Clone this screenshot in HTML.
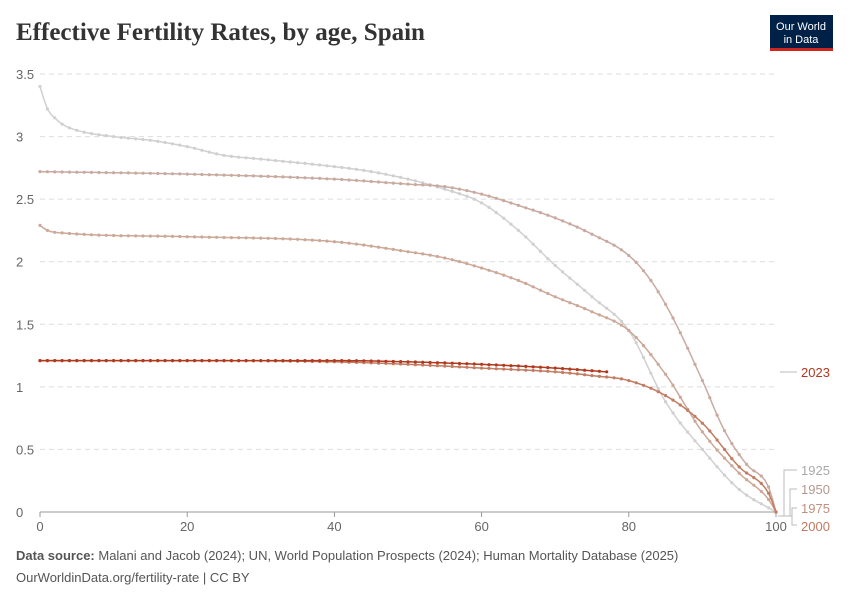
<!DOCTYPE html>
<html><head><meta charset="utf-8"><style>
body{margin:0;background:#fff;font-family:"Liberation Sans",sans-serif}
svg text{font-family:"Liberation Sans",sans-serif}
</style></head><body>
<svg id="s" width="850" height="600" xmlns="http://www.w3.org/2000/svg">
<text x="16" y="40" font-size="25" fill="#333" font-weight="bold" style="font-family:'Liberation Serif',serif">Effective Fertility Rates, by age, Spain</text>
<rect x="770" y="15" width="63" height="35" fill="#002147"/>
<rect x="770" y="48" width="63" height="3" fill="#ce261e"/>
<text x="801" y="30" font-size="11" fill="#fff" text-anchor="middle">Our World</text>
<text x="801" y="43" font-size="11" fill="#fff" text-anchor="middle">in Data</text>
<g id="grid"></g>
<g id="series"></g>
<text x="16" y="560" font-size="13" fill="#555"><tspan font-weight="bold">Data source:</tspan> Malani and Jacob (2024); UN, World Population Prospects (2024); Human Mortality Database (2025)</text>
<text x="16" y="582" font-size="13" fill="#555">OurWorldinData.org/fertility-rate | CC BY</text>
<g font-size="13">
<line x1="780" y1="372" x2="797" y2="372" stroke="#bbb"/>
<text x="801" y="377" fill="#b0391e">2023</text>
<path d="M778 516 H784 V470 H797 M784 516 H790 V489 H797 M790 516 H792 V508 H797 M792 516 V525 H797" fill="none" stroke="#bbb"/>
<text x="801" y="475" fill="#aaa">1925</text>
<text x="801" y="494" fill="#b49890">1950</text>
<text x="801" y="513" fill="#c09080">1975</text>
<text x="801" y="531" fill="#c07a60">2000</text>
</g>
</svg>
<script>
const X=a=>40+a*7.36, Y=v=>512-v*125.14;
let g='';
for(let i=0;i<=7;i++){const v=i*0.5,y=Y(v);
 g+= i==0?`<line x1="40" y1="${y}" x2="776" y2="${y}" stroke="#999"/>`:`<line x1="40" y1="${y}" x2="776" y2="${y}" stroke="#ddd" stroke-dasharray="5,4"/>`;
 g+=`<text x="16" y="${y+5}" font-size="13" fill="#666">${v}</text>`;}
for(let a=0;a<=100;a+=20){g+=`<line x1="${X(a)}" y1="512" x2="${X(a)}" y2="517" stroke="#999"/><text x="${X(a)}" y="531" font-size="13" fill="#666" text-anchor="middle">${a}</text>`;}
document.getElementById('grid').innerHTML=g;
const S=[
['#d0d0d0',[[0,3.4],[1,3.22],[2,3.15],[3,3.1],[5,3.05],[10,3.0],[15,2.97],[20,2.92],[25,2.85],[30,2.82],[40,2.76],[45,2.72],[50,2.66],[55,2.58],[60,2.47],[65,2.25],[70,1.97],[75,1.72],[80,1.45],[85,0.88],[90,0.5],[95,0.18],[100,0]],100],
['#c9aaa0',[[0,2.72],[20,2.7],[40,2.66],[50,2.62],[55,2.6],[60,2.54],[65,2.45],[70,2.35],[75,2.22],[80,2.05],[83,1.85],[86,1.55],[90,1.05],[93,0.65],[96,0.38],[99,0.2],[100,0]],100],
['#cca898',[[0,2.29],[1,2.25],[3,2.23],[20,2.2],[40,2.16],[50,2.08],[55,2.03],[60,1.95],[65,1.85],[70,1.72],[75,1.6],[80,1.45],[85,1.1],[90,0.64],[95,0.31],[99,0.1],[100,0]],100],
['#c27c62',[[0,1.21],[20,1.21],[40,1.2],[50,1.18],[60,1.15],[70,1.12],[75,1.09],[80,1.05],[85,0.93],[90,0.71],[95,0.36],[99,0.15],[100,0]],100],
['#b0391e',[[0,1.21],[40,1.21],[50,1.2],[60,1.18],[70,1.15],[77,1.12]],77]];
function mono(k){const n=k.length,d=[],m=[];
 for(let i=0;i<n-1;i++)d.push((k[i+1][1]-k[i][1])/(k[i+1][0]-k[i][0]));
 m[0]=d[0];m[n-1]=d[n-2];
 for(let i=1;i<n-1;i++)m[i]=(d[i-1]*d[i]<=0)?0:(d[i-1]+d[i])/2;
 for(let i=0;i<n-1;i++){if(d[i]==0){m[i]=m[i+1]=0;continue;}const a=m[i]/d[i],b=m[i+1]/d[i],s=a*a+b*b;if(s>9){const t=3/Math.sqrt(s);m[i]=t*a*d[i];m[i+1]=t*b*d[i];}}
 return x=>{let i=0;while(i<n-2&&x>k[i+1][0])i++;const h=k[i+1][0]-k[i][0],t=(x-k[i][0])/h,t2=t*t,t3=t2*t;
  return (2*t3-3*t2+1)*k[i][1]+(t3-2*t2+t)*h*m[i]+(-2*t3+3*t2)*k[i+1][1]+(t3-t2)*h*m[i+1];};}
let h='';
for(const [c,k,m] of S){
 const f=mono(k);
 let p=[];for(let a=0;a<=m;a+=0.5)p.push(X(a).toFixed(1)+','+Y(f(a)).toFixed(1));
 h+=`<polyline points="${p.join(' ')}" fill="none" stroke="${c}" stroke-width="1.5"/>`;
 for(let a=0;a<=m;a++)h+=`<circle cx="${X(a).toFixed(1)}" cy="${Y(f(a)).toFixed(1)}" r="1.6" fill="${c}"/>`;
}
document.getElementById('series').innerHTML=h;
</script>
</body></html>
